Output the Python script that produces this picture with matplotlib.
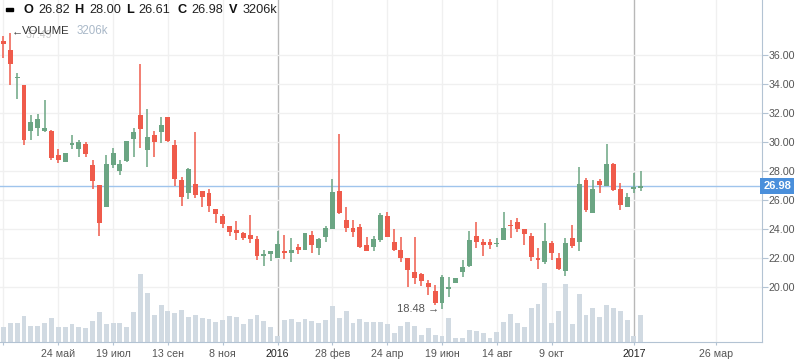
import numpy as np
import pandas as pd
import matplotlib
matplotlib.use("Agg")
import matplotlib.pyplot as plt
import matplotlib.dates as mdates
from matplotlib.patches import Rectangle

# weekly candles, first week starts 29 Mar 2015
start_week = "2015-03-29"
opens = [36.97, 36.34, 34.42, 33.93, 30.76, 30.99, 30.76, 30.76, 29.10, 28.64,
         29.82, 29.52, 29.86, 28.41, 27.03, 25.54, 28.41, 28.02, 28.69, 30.23,
         31.86, 29.45, 30.48, 30.71, 31.70, 29.79, 27.38, 26.46, 27.10, 26.62,
         26.48, 25.38, 24.92, 24.21, 23.93, 23.75, 23.59, 23.31, 22.16, 22.28,
         22.02, 22.43, 22.37, 22.74, 22.55, 23.59, 22.67, 23.43, 24.00, 26.62,
         24.62, 24.05, 24.12, 22.90, 22.74, 23.24, 24.90, 23.13, 22.55, 22.02,
         21.06, 20.90, 20.30, 19.74, 18.92, 19.86, 20.30, 21.06, 21.47, 23.52,
         23.10, 23.10, 22.97, 23.24, 24.28, 24.46, 24.00, 23.52, 21.95, 21.74,
         23.01, 22.00, 21.12, 23.38, 23.12, 27.38, 25.12, 27.31, 26.99, 28.48,
         26.74, 25.54, 26.78, 26.82]
highs = [37.31, 37.49, 34.74, 33.93, 31.86, 31.93, 32.90, 30.83, 29.52, 29.26,
         30.48, 30.14, 30.02, 28.76, 27.03, 29.10, 29.57, 28.76, 30.07, 30.94,
         35.36, 32.25, 30.76, 31.70, 31.70, 30.14, 27.61, 28.23, 30.71, 26.62,
         26.76, 25.38, 25.03, 24.21, 24.55, 23.79, 24.97, 23.52, 22.55, 22.48,
         23.86, 23.59, 23.36, 22.97, 23.75, 23.86, 23.36, 24.21, 27.45, 30.55,
         25.49, 24.62, 24.34, 23.43, 23.54, 25.12, 25.19, 24.00, 23.47, 22.02,
         23.47, 20.94, 20.48, 20.14, 20.83, 20.71, 20.64, 21.86, 23.86, 24.51,
         23.31, 23.31, 23.36, 25.19, 24.62, 24.74, 24.00, 23.70, 22.71, 24.43,
         23.17, 22.32, 23.38, 24.28, 28.30, 27.49, 27.38, 27.45, 29.86, 28.57,
         27.15, 26.46, 27.88, 28.00]
lows = [35.77, 33.93, 32.97, 29.79, 30.14, 30.43, 30.71, 28.76, 28.53, 28.60,
        29.52, 28.99, 28.99, 26.74, 23.54, 25.54, 28.23, 27.72, 28.64, 28.99,
        29.61, 28.30, 28.99, 29.95, 30.02, 26.97, 25.61, 26.05, 26.12, 25.54,
        25.20, 24.39, 24.09, 23.54, 23.24, 23.24, 23.06, 21.86, 21.47, 21.79,
        22.02, 21.93, 21.75, 22.28, 22.55, 22.37, 22.21, 23.13, 24.00, 25.03,
        23.82, 23.43, 22.67, 22.50, 22.50, 23.08, 23.43, 22.50, 21.75, 20.02,
        20.21, 20.09, 19.45, 18.76, 18.48, 19.33, 20.28, 20.71, 21.40, 22.71,
        22.14, 22.62, 22.74, 23.24, 23.40, 23.82, 22.90, 21.81, 21.26, 21.59,
        21.86, 21.17, 20.78, 22.71, 22.50, 25.20, 25.12, 26.46, 26.99, 26.64,
        25.31, 25.54, 26.50, 26.61]
closes = [36.74, 35.36, 34.48, 30.14, 31.36, 31.59, 30.94, 28.92, 28.76, 29.24,
          29.88, 29.98, 29.17, 27.33, 24.43, 28.48, 29.22, 28.46, 30.07, 30.67,
          30.90, 30.37, 30.02, 31.17, 30.09, 27.43, 26.19, 28.14, 26.37, 26.23,
          25.61, 25.01, 24.32, 23.81, 23.75, 23.40, 23.31, 22.16, 22.28, 22.48,
          22.97, 22.37, 22.55, 22.55, 23.70, 22.90, 23.29, 24.05, 26.57, 25.12,
          24.05, 23.82, 22.78, 22.50, 23.31, 24.97, 23.47, 22.55, 21.98, 21.17,
          20.64, 20.43, 20.02, 18.87, 20.71, 20.02, 20.60, 21.40, 23.24, 23.13,
          22.92, 22.92, 23.01, 24.07, 24.21, 24.00, 23.66, 22.09, 21.88, 23.17,
          22.32, 21.26, 23.01, 22.83, 27.10, 25.31, 26.76, 27.03, 28.48, 26.69,
          25.68, 26.21, 26.83, 26.98]
# volume, thousands
volumes = [1800, 2280, 2280, 3080, 1880, 1880, 2280, 2840, 1800, 1800,
           2120, 1800, 1640, 2480, 3560, 2120, 2280, 2280, 1800, 3560,
           8120, 5840, 3200, 4400, 3680, 3440, 3800, 2960, 3200, 2840,
           2720, 2360, 2600, 3080, 2960, 2120, 2720, 3200, 2480, 1760,
           680, 2600, 2720, 2360, 2720, 2480, 2240, 2600, 4280, 2840,
           3680, 2240, 2720, 2360, 2360, 2360, 2120, 1040, 1880, 2360,
           1880, 800, 1640, 800, 680, 2840, 440, 440, 1400, 1280,
           1040, 440, 1160, 2360, 3320, 2240, 1760, 4040, 4520, 7040,
           2240, 3680, 6920, 2120, 5720, 3200, 4040, 2960, 4400, 4040,
           3680, 2600, 680, 3206]

tick_dates = ["2015-03-29", "2015-05-24", "2015-07-19", "2015-09-13", "2015-11-08",
              "2016-01-03", "2016-02-28", "2016-04-24", "2016-06-19", "2016-08-14",
              "2016-10-09", "2017-01-01", "2017-03-26"]
tick_labels = ["", "24 май", "19 июл", "13 сен", "8 ноя", "2016", "28 фев",
               "24 апр", "19 июн", "14 авг", "9 окт", "2017", "26 мар"]
year_labels = ["2016", "2017"]
price_ticks = [20, 22, 24, 26, 28, 30, 32, 34, 36]
last_price = 26.98
hi_price, lo_price = 37.49, 18.48

UP = "#6ba583"
DOWN = "#ef5b4b"
GRID = "#f0f0f0"
AXIS = "#b3c3d3"
TXT = "#555555"

plt.rcParams["font.family"] = ["Liberation Sans", "DejaVu Sans"]

W, H = 798, 363
fig = plt.figure(figsize=(W / 100, H / 100), dpi=100)
ax = fig.add_axes([0, 21 / H, 762 / W, 342 / H])

dates = pd.date_range(start_week, periods=len(opens), freq="7D")
x = mdates.date2num(dates.to_pydatetime())
o = np.array(opens); h = np.array(highs); l = np.array(lows); c = np.array(closes)
v = np.array(volumes, dtype=float)

x0 = mdates.date2num(pd.Timestamp("2015-03-29").to_pydatetime())
ax.set_xlim(x0 - 3.5, x0 + 56 + 718.8)
ax.set_ylim(16.21, 39.79)

# grid
xt = mdates.date2num([pd.Timestamp(d).to_pydatetime() for d in tick_dates])
for xx, lab in zip(xt, tick_labels):
    col = "#b8b8b8" if lab in year_labels else GRID
    ax.axvline(xx, color=col, lw=1, zorder=0)
for p in price_ticks:
    ax.axhline(p, color=GRID, lw=1, zorder=0)

# volume bars (bottom part, axes-fraction heights)
vol_top = 41000.0
ax.bar(x, v / vol_top, width=5.0, bottom=0, color="#d1dae2",
       transform=ax.get_xaxis_transform(), zorder=1)

# last price line
ax.axhline(last_price, color="#9fc4ec", lw=1, zorder=2)

# candles
colors = np.where(c >= o, UP, DOWN)
ax.vlines(x, l, h, colors=colors, lw=1.1, zorder=3)
body_lo = np.minimum(o, c)
body_h = np.maximum(np.abs(c - o), 0.09)
ax.bar(x, body_h, width=5.0, bottom=body_lo, color=colors, zorder=4)

# axes styling
for s in ["top", "left"]:
    ax.spines[s].set_visible(False)
ax.spines["right"].set_color(AXIS)
ax.spines["bottom"].set_color(AXIS)
ax.yaxis.tick_right()
ax.set_yticks(price_ticks)
ax.set_yticklabels(["%.2f" % p for p in price_ticks])
ax.tick_params(axis="y", length=4, color=AXIS, labelcolor=TXT, labelsize=7.7, pad=1)
ax.set_xticks(xt)
ax.set_xticklabels(tick_labels)
ax.tick_params(axis="x", length=2.5, color=AXIS, labelcolor=TXT, labelsize=7.7, pad=8.2)
for t in ax.get_xticklabels():
    t.set_va("baseline")
    if t.get_text() in year_labels:
        t.set_color("#222222")

# last price box
ax.text(1.0015, last_price, "%.2f" % last_price, transform=ax.get_yaxis_transform(),
        ha="left", va="center", color="white", fontsize=8, fontweight="bold",
        bbox=dict(boxstyle="square,pad=0.25", fc="#4a8fdb", ec="none"), clip_on=False)

# hi / lo markers
ax.text(x[1] + 2, hi_price + 0.12, "\u2190", ha="left", va="center",
        color="#444444", fontsize=8, zorder=5)
fig.text(26 / W, 1 - 35 / H, "%.2f" % hi_price, ha="left", va="center",
         color="#c8c8c8", fontsize=7.7)
ax.text(x[64] - 3, lo_price, "%.2f \u2192" % lo_price, ha="right", va="center",
        color=TXT, fontsize=8, zorder=5)

# header
fig.patches.append(Rectangle((6 / W, 1 - 11 / H), 7 / W, 3 / H,
                             transform=fig.transFigure, color="black"))
hy = 1 - 10 / H
items = [("O", 24, "26.82", 38), ("H", 74, "28.00", 89), ("L", 126, "26.61", 138),
         ("C", 177, "26.98", 191), ("V", 229, "3206k", 243)]
for key, kx, val, vx in items:
    fig.text(kx / W, hy, key, ha="left", va="center", fontsize=9.2,
             fontweight="bold", color="#111111")
    fig.text(vx / W, hy, val, ha="left", va="center", fontsize=9.2, color="#222222")
fig.text(22 / W, 1 - 31 / H, "VOLUME", ha="left", va="center", fontsize=8.2,
         color="#333333")
fig.text(77 / W, 1 - 31 / H, "3206k", ha="left", va="center", fontsize=8.3,
         color="#a9b8c8")

fig.savefig("out.png", dpi=100)
